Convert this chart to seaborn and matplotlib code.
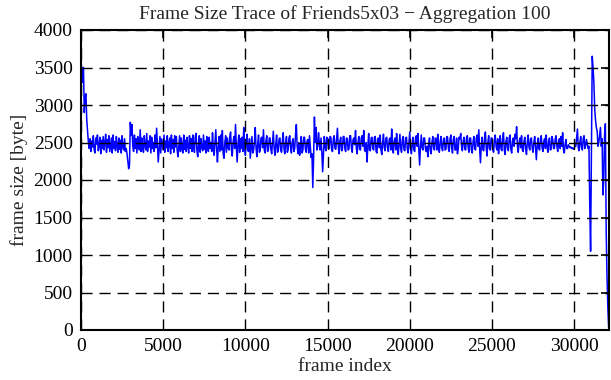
import numpy as np
import pandas as pd
import matplotlib
matplotlib.use("Agg")
import matplotlib.pyplot as plt
import seaborn as sns

# Frame sizes, one value every 50 frames
frame_size = [
    3600, 3450, 3300, 3500, 2900, 3100, 3150, 2800, 2650, 2500, 2420, 2550,
    2380, 2520, 2440, 2590, 2400, 2360, 2560, 2480, 2600, 2390, 2450, 2570, 2350, 2530, 2420, 2580, 2400, 2490, 2610, 2370,
    2540, 2430, 2590, 2380, 2470, 2560, 2360, 2600, 2420, 2510, 2390, 2580, 2450, 2370, 2560, 2410, 2530, 2360, 2590, 2440, 2400, 2550, 2380, 2420,
    2350, 2250, 2150, 2200, 2770, 2600, 2740, 2450,
    2380, 2600, 2420, 2550, 2360, 2580, 2470, 2400, 2670, 2380, 2560, 2430, 2370, 2590, 2450, 2400, 2620, 2380, 2520, 2440,
    2590, 2360, 2570, 2420, 2500, 2380, 2600, 2430, 2690, 2450, 2240, 2400, 2580, 2360, 2550, 2470, 2400, 2600, 2370, 2520,
    2430, 2590, 2380, 2480, 2560, 2350, 2600, 2420, 2540, 2370, 2590, 2440, 2580, 2400, 2310, 2450, 2590, 2380, 2560, 2420,
    2360, 2600, 2410, 2530, 2380, 2570, 2450, 2360, 2590, 2420, 2550, 2380, 2600, 2460, 2370, 2580, 2620, 2400, 2310, 2480,
    2590, 2370, 2550, 2430, 2390, 2600, 2410, 2520, 2360, 2580, 2440, 2380, 2570, 2420, 2500, 2380, 2630, 2420, 2330, 2500,
    2670, 2420, 2240, 2450, 2580, 2380, 2600, 2400, 2660, 2350, 2290, 2500, 2590, 2370, 2560, 2430, 2400, 2580, 2640, 2400,
    2320, 2500, 2580, 2420, 2740, 2450, 2240, 2480, 2600, 2370, 2550, 2420, 2570, 2380, 2700, 2460, 2330, 2500, 2610, 2390,
    2380, 2550, 2290, 2440, 2580, 2360, 2400, 2500, 2700, 2420, 2310, 2480, 2600, 2370, 2390, 2560, 2570, 2430, 2670, 2400,
    2360, 2520, 2590, 2380, 2400, 2560, 2560, 2410, 2350, 2500, 2650, 2420, 2330, 2480, 2600, 2370, 2390, 2550, 2560, 2400,
    2370, 2520, 2630, 2410, 2350, 2500, 2580, 2370, 2400, 2560, 2590, 2430, 2360, 2510, 2550, 2380, 2420, 2600, 2740, 2450,
    2350, 2500, 2330, 2440, 2580, 2360, 2400, 2570, 2570, 2410, 2370, 2520, 2540, 2360, 2590, 2450, 2300, 2350,
    1900, 2300, 2840, 2500, 2700, 2400,
    2450, 2630, 2480, 2400, 2560, 2380, 2110, 2350, 2580, 2440, 2390, 2570, 2560, 2420, 2420, 2580, 2570, 2400, 2380, 2550,
    2590, 2420, 2410, 2560, 2690, 2450, 2350, 2520, 2570, 2390, 2400, 2580, 2580, 2420, 2380, 2560, 2550, 2400, 2410, 2590,
    2590, 2430, 2370, 2540, 2560, 2470, 2660, 2420, 2350, 2500, 2580, 2410, 2400, 2560, 2590, 2450, 2660, 2400, 2380, 2500,
    2240, 2450, 2620, 2400, 2390, 2560, 2570, 2420, 2400, 2570, 2580, 2380, 2360, 2550, 2560, 2430, 2600, 2400, 2340, 2500,
    2610, 2430, 2390, 2560, 2570, 2420, 2380, 2540, 2560, 2400, 2680, 2450, 2360, 2520, 2560, 2400, 2620, 2450, 2340, 2480,
    2610, 2420, 2370, 2540, 2580, 2400, 2390, 2560, 2570, 2410, 2360, 2500, 2640, 2420, 2350, 2480, 2570, 2400, 2380, 2560,
    2590, 2450, 2620, 2400, 2200, 2450, 2600, 2430, 2400, 2560, 2560, 2420, 2380, 2450, 2310, 2480, 2560, 2390, 2350, 2500,
    2580, 2430, 2400, 2560, 2550, 2400, 2610, 2450, 2370, 2510, 2580, 2420, 2390, 2540, 2560, 2400, 2410, 2580, 2570, 2420,
    2380, 2550, 2600, 2430, 2360, 2540, 2580, 2400, 2400, 2560, 2350, 2420, 2570, 2550, 2620, 2450, 2390, 2520, 2570, 2410,
    2400, 2560, 2590, 2440, 2370, 2560, 2560, 2400, 2360, 2510, 2580, 2420, 2400, 2560, 2600, 2450, 2670, 2420, 2230, 2450,
    2570, 2400, 2390, 2560, 2640, 2430, 2320, 2500, 2590, 2420, 2400, 2560, 2560, 2400, 2370, 2540, 2600, 2450, 2400, 2550,
    2350, 2450, 2590, 2420, 2390, 2560, 2630, 2400, 2340, 2510, 2570, 2420, 2390, 2560, 2600, 2410, 2360, 2520, 2560, 2450,
    2610, 2550, 2710, 2450, 2370, 2500, 2560, 2430, 2590, 2400, 2380, 2520, 2570, 2420, 2340, 2500, 2600, 2440, 2400, 2550,
    2560, 2420, 2370, 2500, 2580, 2440, 2270, 2450, 2560, 2420, 2400, 2550, 2590, 2430, 2380, 2510, 2550, 2420, 2600, 2450,
    2370, 2510, 2560, 2400, 2410, 2580, 2540, 2420, 2420, 2550, 2590, 2450, 2380, 2500, 2550, 2420, 2580, 2450, 2630, 2400,
    2360, 2480, 2540, 2420, 2420, 2470, 2450, 2430, 2440, 2420, 2430, 2410, 2420, 2450, 2450, 2560, 2680, 2430,
    2390, 2500, 2580, 2430, 2400, 2550, 2590, 2420, 2460, 2540, 2480, 2420,
    2450, 1650, 1050, 2400, 3650, 3500, 3300, 2950, 2800, 2700, 2650, 2450, 2500,
    2600, 2700, 2450, 2550, 1800, 2000, 2600, 2750, 1300, 700, 300, 30,
]
frame_step = 50
frame_index = [i * frame_step for i in range(len(frame_size))]

x_ticks = [0, 5000, 10000, 15000, 20000, 25000, 30000]
y_ticks = [0, 500, 1000, 1500, 2000, 2500, 3000, 3500, 4000]

title = "Frame Size Trace of Friends5x03 \u2212 Aggregation 100"
x_label = "frame index"
y_label = "frame size [byte]"

sns.set_style("white")
plt.rcParams["font.family"] = ["Liberation Serif", "DejaVu Serif"]

df = pd.DataFrame({"frame index": frame_index, "frame size": frame_size})

fig = plt.figure(figsize=(6.11, 3.80), dpi=100)
ax = fig.add_axes([81 / 611, 1 - 330 / 380, (609 - 81) / 611, 300 / 380])

sns.lineplot(data=df, x="frame index", y="frame size", ax=ax,
             color="#0000ff", linewidth=1.1, estimator=None, zorder=2)

ax.set_xlim(0, 32120)
ax.set_ylim(0, 4000)
ax.set_xticks(x_ticks)
ax.set_yticks(y_ticks)
ax.set_xticklabels([str(t) for t in x_ticks])
ax.set_yticklabels([str(t) for t in y_ticks])

ax.set_axisbelow(False)
ax.grid(True, color="black", linestyle=(0, (8, 5)), linewidth=1.0)
ax.tick_params(direction="in", length=6, width=1.2, colors="black",
               labelsize=14, top=True, right=True, pad=6)
for s in ax.spines.values():
    s.set_color("black")
    s.set_linewidth(1.5)

ax.set_title(title, fontsize=14, pad=8)
ax.set_xlabel(x_label, fontsize=14, labelpad=2)
ax.set_ylabel(y_label, fontsize=14, labelpad=4)

fig.savefig("out.png", dpi=100)
